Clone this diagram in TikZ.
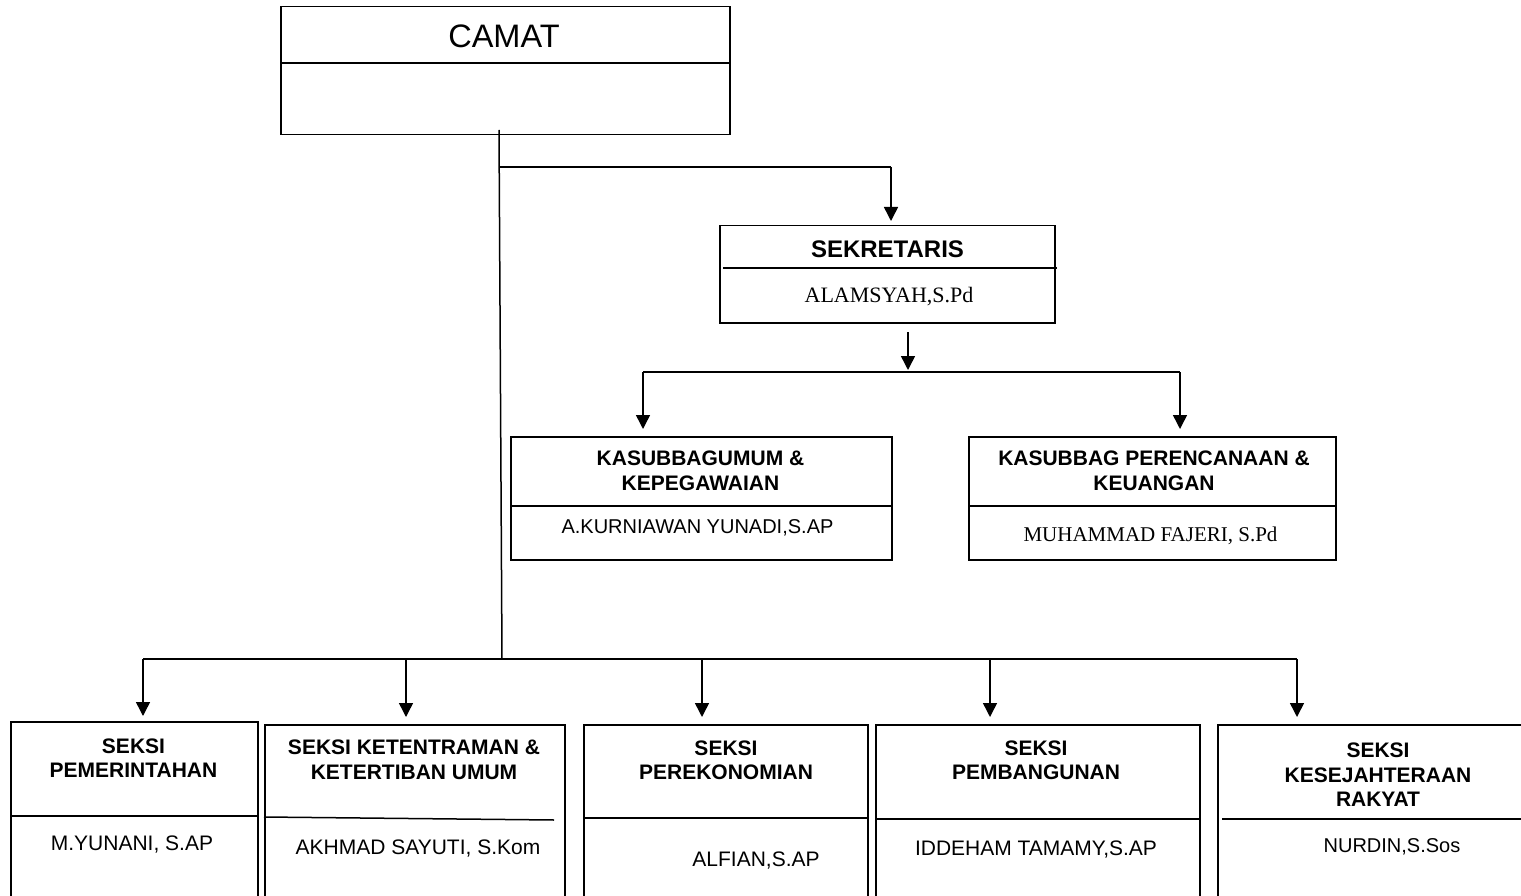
\documentclass[tikz,border=0pt]{standalone}
\usepackage{fontspec}
\setmainfont{Liberation Sans}
\newfontfamily\tnr{Liberation Serif}
\usetikzlibrary{arrows.meta,positioning}
\tikzset{
  box/.style={draw=black, line width=1.5pt, rectangle, inner sep=0pt, anchor=north west},
  ln/.style={line width=1.5pt, draw=black},
  arr/.style={ln, -{Triangle[length=14pt,width=14pt]}},
  ttl/.style={font=\bfseries\fontsize{21}{24.5}\selectfont, align=center, inner sep=0pt},
  nm/.style={font=\fontsize{21}{24}\selectfont, inner sep=0pt},
  nmserif/.style={font=\tnr\fontsize{22}{25}\selectfont, inner sep=0pt}
}
\begin{document}
\begin{tikzpicture}[x=1pt,y=-1pt]
\clip (0,0) rectangle (1521,896);
\fill[white] (0,0) rectangle (1521,896);

% CAMAT
\node[box, minimum width=449, minimum height=128] (camat) at (280,6) {};
\draw[ln] (camat.west |- 0,63) -- (camat.east |- 0,63);
\node[font=\fontsize{32.5}{36}\selectfont, inner sep=0pt] (camatT) at (504,36) {CAMAT};

% SEKRETARIS
\node[box, minimum width=335, minimum height=97] (sek) at (719,225) {};
\draw[ln] (723,268) -- (1057,268);
\node[font=\bfseries\fontsize{24}{27}\selectfont, inner sep=0pt] (sekT) at (887.5,249) {SEKRETARIS};
\node[nmserif] (sekN) at (889,297) {ALAMSYAH,S.Pd};

% KASUBBAG UMUM
\node[box, minimum width=381, minimum height=123] (ku) at (510,436) {};
\draw[ln] (ku.west |- 0,506) -- (ku.east |- 0,506);
\node[ttl] (kuT) at (700.5,471) {KASUBBAGUMUM \&\\KEPEGAWAIAN};
\node[nm, font=\fontsize{20}{24}\selectfont] (kuN) at (697.5,528) {A.KURNIAWAN YUNADI,S.AP};

% KASUBBAG PERENCANAAN
\node[box, minimum width=367, minimum height=123] (kp) at (968,436) {};
\draw[ln] (kp.west |- 0,506) -- (kp.east |- 0,506);
\node[ttl] (kpT) at (1154,471) {KASUBBAG PERENCANAAN \&\\KEUANGAN};
\node[nmserif, font=\tnr\fontsize{21}{25}\selectfont] (kpN) at (1150.5,536) {MUHAMMAD FAJERI, S.Pd};

% bottom boxes
\node[box, minimum width=247, minimum height=300] (b1) at (10,721) {};
\draw[ln] (b1.west |- 0,816) -- (b1.east |- 0,816);
\node[ttl] (b1T) at (133.5,758) {SEKSI\\PEMERINTAHAN};
\node[nm] (b1N) at (132,845) {M.YUNANI, S.AP};

\node[box, minimum width=300, minimum height=300] (b2) at (264,724) {};
\draw[ln] (264,817) -- (554,820);
\node[ttl] (b2T) at (414,760) {SEKSI KETENTRAMAN \&\\KETERTIBAN UMUM};
\node[nm] (b2N) at (418,849) {AKHMAD SAYUTI, S.Kom};

\node[box, minimum width=284, minimum height=300] (b3) at (583,724) {};
\draw[ln] (b3.west |- 0,818) -- (b3.east |- 0,818);
\node[ttl] (b3T) at (726,760.5) {SEKSI\\PEREKONOMIAN};
\node[nm] (b3N) at (756,861) {ALFIAN,S.AP};

\node[box, minimum width=324, minimum height=300] (b4) at (875,724) {};
\draw[ln] (b4.west |- 0,819) -- (b4.east |- 0,819);
\node[ttl] (b4T) at (1036,760.5) {SEKSI\\PEMBANGUNAN};
\node[nm] (b4N) at (1036,850) {IDDEHAM TAMAMY,S.AP};

\node[box, minimum width=340, minimum height=300] (b5) at (1217,724) {};
\draw[ln] (1222,819) -- (1560,819);
\node[ttl] (b5T) at (1378,775) {SEKSI\\KESEJAHTERAAN\\RAKYAT};
\node[nm, font=\fontsize{20}{24}\selectfont] (b5N) at (1392,847) {NURDIN,S.Sos};

% connectors
\coordinate (stemTop) at (499,130);
\coordinate (stemBot) at (502,659);
\coordinate (jSek) at (500,167);
\coordinate (aSek) at (891,167);
\draw[ln] (stemTop) -- (stemBot);
\draw[ln] (jSek) -- (aSek);
\draw[arr] (aSek) -- ([yshift=4pt]aSek |- sek.north);

\coordinate (sekOut) at (908,332);
\coordinate (sekJ) at (908,372);
\coordinate (kuA) at (643,372);
\coordinate (kpA) at (1180,372);
\draw[arr] (sekOut) -- ([yshift=2pt]sekJ);
\draw[ln] (kuA) -- (kpA);
\draw[arr] (kuA) -- ([yshift=7pt]kuA |- ku.north);
\draw[arr] (kpA) -- ([yshift=7pt]kpA |- kp.north);

\coordinate (c1) at (143,659);
\coordinate (c2) at (406,659);
\coordinate (c3) at (702,659);
\coordinate (c4) at (990,659);
\coordinate (c5) at (1297,659);
\draw[ln] (c1) -- (c5);
\draw[arr] (c1) -- ([yshift=5pt]c1 |- b1.north);
\draw[arr] (c2) -- ([yshift=7pt]c2 |- b2.north);
\draw[arr] (c3) -- ([yshift=7pt]c3 |- b3.north);
\draw[arr] (c4) -- ([yshift=7pt]c4 |- b4.north);
\draw[arr] (c5) -- ([yshift=7pt]c5 |- b5.north);
\end{tikzpicture}
\end{document}
